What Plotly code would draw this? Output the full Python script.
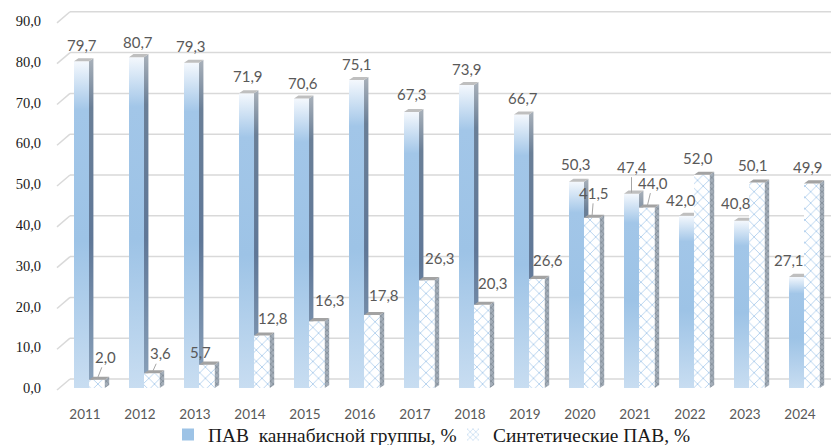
import plotly.graph_objects as go

# ---- data -------------------------------------------------------------
years = [2011, 2012, 2013, 2014, 2015, 2016, 2017, 2018, 2019, 2020, 2021, 2022, 2023, 2024]
cannabis = [79.7, 80.7, 79.3, 71.9, 70.6, 75.1, 67.3, 73.9, 66.7, 50.3, 47.4, 42.0, 40.8, 27.1]
synthetic = [2.0, 3.6, 5.7, 12.8, 16.3, 17.8, 26.3, 20.3, 26.6, 41.5, 44.0, 52.0, 50.1, 49.9]
y_ticks = [0, 10, 20, 30, 40, 50, 60, 70, 80, 90]
series_names = ["ПАВ  каннабисной группы, %", "Синтетические ПАВ, %"]


def fmt(v):
    return f"{v:.1f}".replace(".", ",")


# ---- page geometry ----------------------------------------------------
W, H = 831, 445
PL, PR, PT, PB = 47, 831, 5, 405          # plot area in px
CAT0_PX, CAT_STEP = 85, 55                # first category centre, spacing
ZERO_PX, UNIT_PX = 388, 4.1               # baseline, px per percent

x_range = [(PL - CAT0_PX) / CAT_STEP, (PR - CAT0_PX) / CAT_STEP]
y_range = [-(PB - ZERO_PX) / UNIT_PX, (ZERO_PX - PT) / UNIT_PX]

# pseudo-3D bar geometry (category units / percent units)
BLUE_L, BLUE_R = -0.20, 0.073
HATCH_L, HATCH_R = 0.073, 0.36
DEPTH_X, DEPTH_Y = 0.08, 0.75

# back wall of the chart box
WALL_SCALE = 4.08 / 4.1
WALL_FRONT, WALL_BACK = -0.5, 2.2
WALL_X0 = (57 - CAT0_PX) / CAT_STEP
WALL_X1 = (70 - CAT0_PX) / CAT_STEP

BLUE_FRONT = [[0.0, "#c8ddf1"], [0.45, "#9dc3e6"], [0.85, "#a2c6e8"], [1.0, "#f4f8fd"]]
BLUE_SIDE = [[0.0, "#8aa2bb"], [0.45, "#5f7797"], [0.85, "#6a7f97"], [1.0, "#a9b1ba"]]
CAP_COLOR = "#bfbfbf"
HATCH_BLUE = "#5a9ad8"
SERIF = "Liberation Serif"
SANS = "Lato"

fig = go.Figure()


def poly(xs_list, ys_list):
    xs, ys = [], []
    for px_, py_ in zip(xs_list, ys_list):
        xs += px_ + [None]
        ys += py_ + [None]
    return xs, ys


# ---- cannabis bars: front face with vertical gradient, side, cap ------
for i, v in enumerate(cannabis):
    a, b = i + BLUE_L, i + BLUE_R
    fig.add_trace(go.Scatter(
        x=[a, b, b, a, a], y=[0, 0, v, v, 0], mode="lines", fill="toself",
        line=dict(width=0), fillgradient=dict(type="vertical", colorscale=BLUE_FRONT),
        hoverinfo="skip", showlegend=False))
    fig.add_trace(go.Scatter(
        x=[b, b + DEPTH_X, b + DEPTH_X, b, b], y=[0, DEPTH_Y, v + DEPTH_Y, v, 0],
        mode="lines", fill="toself", line=dict(width=0),
        fillgradient=dict(type="vertical", colorscale=BLUE_SIDE),
        hoverinfo="skip", showlegend=False))

cx, cy = poly(
    [[i + BLUE_L, i + BLUE_R, i + BLUE_R + DEPTH_X, i + BLUE_L + DEPTH_X, i + BLUE_L]
     for i in range(len(cannabis))],
    [[v, v, v + DEPTH_Y, v + DEPTH_Y, v] for v in cannabis])
fig.add_trace(go.Scatter(x=cx, y=cy, mode="lines", fill="toself", fillcolor=CAP_COLOR,
                         line=dict(width=0), hoverinfo="skip", showlegend=False))

# ---- synthetic bars: cross-hatched faces ------------------------------
fx, fy = poly(
    [[i + HATCH_L, i + HATCH_R, i + HATCH_R, i + HATCH_L, i + HATCH_L]
     for i in range(len(synthetic))],
    [[0, 0, v, v, 0] for v in synthetic])
fig.add_trace(go.Scatter(
    x=fx, y=fy, mode="lines", fill="toself", line=dict(width=0), fillcolor="white",
    fillpattern=dict(shape="x", fgcolor=HATCH_BLUE, bgcolor="white", size=8, solidity=0.2),
    hoverinfo="skip", showlegend=False))

sx, sy = poly(
    [[i + HATCH_R, i + HATCH_R + DEPTH_X, i + HATCH_R + DEPTH_X, i + HATCH_R, i + HATCH_R]
     for i in range(len(synthetic))],
    [[0, DEPTH_Y, v + DEPTH_Y, v, 0] for v in synthetic])
fig.add_trace(go.Scatter(
    x=sx, y=sy, mode="lines", fill="toself", line=dict(width=0), fillcolor="#8f9aa6",
    fillpattern=dict(shape="x", fgcolor="#5f6b78", bgcolor="#a3adb8", size=4, solidity=0.35),
    hoverinfo="skip", showlegend=False))

tx, ty = poly(
    [[i + HATCH_L, i + HATCH_R, i + HATCH_R + DEPTH_X, i + HATCH_L + DEPTH_X, i + HATCH_L]
     for i in range(len(synthetic))],
    [[v, v, v + DEPTH_Y, v + DEPTH_Y, v] for v in synthetic])
fig.add_trace(go.Scatter(x=tx, y=ty, mode="lines", fill="toself", fillcolor="#a3a3a3",
                         line=dict(width=0), hoverinfo="skip", showlegend=False))

# ---- legend entries ---------------------------------------------------
fig.add_trace(go.Bar(x=[None], y=[None], name=series_names[0],
                     marker=dict(color="#9dc3e6", line=dict(width=0))))
fig.add_trace(go.Bar(x=[None], y=[None], name=series_names[1],
                     marker=dict(color="white", line=dict(width=0),
                                 pattern=dict(shape="x", fgcolor=HATCH_BLUE, bgcolor="white",
                                              size=5, solidity=0.25))))

# ---- back-wall gridlines ---------------------------------------------
shapes = []
for v in y_ticks:
    yf = WALL_SCALE * v + WALL_FRONT
    yb = WALL_SCALE * v + WALL_BACK
    shapes.append(dict(type="line", xref="x", yref="y", x0=WALL_X0, y0=yf, x1=WALL_X1, y1=yb,
                       line=dict(color="#d9d9d9", width=1.5), layer="below"))
    shapes.append(dict(type="line", xref="x", yref="y", x0=WALL_X1, y0=yb, x1=x_range[1], y1=yb,
                       line=dict(color="#d9d9d9", width=1.5), layer="below"))

# ---- value labels -----------------------------------------------------
blue_dx = [0, 1, -1, 1, 1, 0, 0, 0, 1, -1, 0, -6, -6, -8]
blue_dy = [-16, -15, -17, -17, -16, -16, -18, -16, -17, -18, -27, -16, -18, -17]
synth_dx = [9, 9, -6, 11, 13, 12, 13, 11, 11, 2, 6, -4, -4, -4]
synth_dy = [-23, -20, -13, -18, -21, -20, -22, -22, -19, -25, -25, -17, -18, -16]
blue_leader = [False] * 10 + [True, False, False, False]
synth_leader = [True, True] + [False] * 7 + [True, True, False, False, False]

LABEL_FONT = dict(family=SANS, size=15, color="#595959")
annotations = []
for i, v in enumerate(cannabis):
    annotations.append(dict(
        x=i + (BLUE_L + BLUE_R) / 2, y=v, xref="x", yref="y", text=fmt(v),
        showarrow=True, arrowhead=0, arrowwidth=1, standoff=1,
        arrowcolor="#a6a6a6" if blue_leader[i] else "rgba(0,0,0,0)",
        ax=blue_dx[i], ay=blue_dy[i], font=LABEL_FONT))
for i, v in enumerate(synthetic):
    annotations.append(dict(
        x=i + (HATCH_L + HATCH_R) / 2, y=v, xref="x", yref="y", text=fmt(v),
        showarrow=True, arrowhead=0, arrowwidth=1, standoff=1,
        arrowcolor="#a6a6a6" if synth_leader[i] else "rgba(0,0,0,0)",
        ax=synth_dx[i], ay=synth_dy[i], font=LABEL_FONT))

fig.update_layout(
    width=W, height=H,
    margin=dict(l=PL, r=W - PR, t=PT, b=H - PB, pad=0, autoexpand=False),
    paper_bgcolor="white", plot_bgcolor="white",
    shapes=shapes, annotations=annotations,
    showlegend=True,
    legend=dict(orientation="h", xref="container", x=168 / W, xanchor="left",
                yref="container", y=1 - 435 / H, yanchor="middle",
                entrywidth=240, entrywidthmode="pixels",
                font=dict(family=SERIF, size=19.4, color="#1a1a1a"),
                itemwidth=30, bgcolor="rgba(0,0,0,0)"),
    xaxis=dict(range=x_range, tickmode="array", tickvals=list(range(len(years))),
               ticktext=[str(y) for y in years], showgrid=False, zeroline=False,
               showline=False, ticks="", fixedrange=True, ticklabelstandoff=-1,
               tickfont=dict(family=SANS, size=13.5, color="#595959")),
    yaxis=dict(range=y_range, tickmode="array",
               tickvals=[WALL_SCALE * v + WALL_FRONT for v in y_ticks],
               ticktext=[fmt(v) for v in y_ticks], showgrid=False, zeroline=False,
               showline=False, ticks="", fixedrange=True, ticklabelshift=-2,
               ticklabelstandoff=5,
               tickfont=dict(family=SERIF, size=14.5, color="#1a1a1a")),
)

fig.write_html("out.html")
